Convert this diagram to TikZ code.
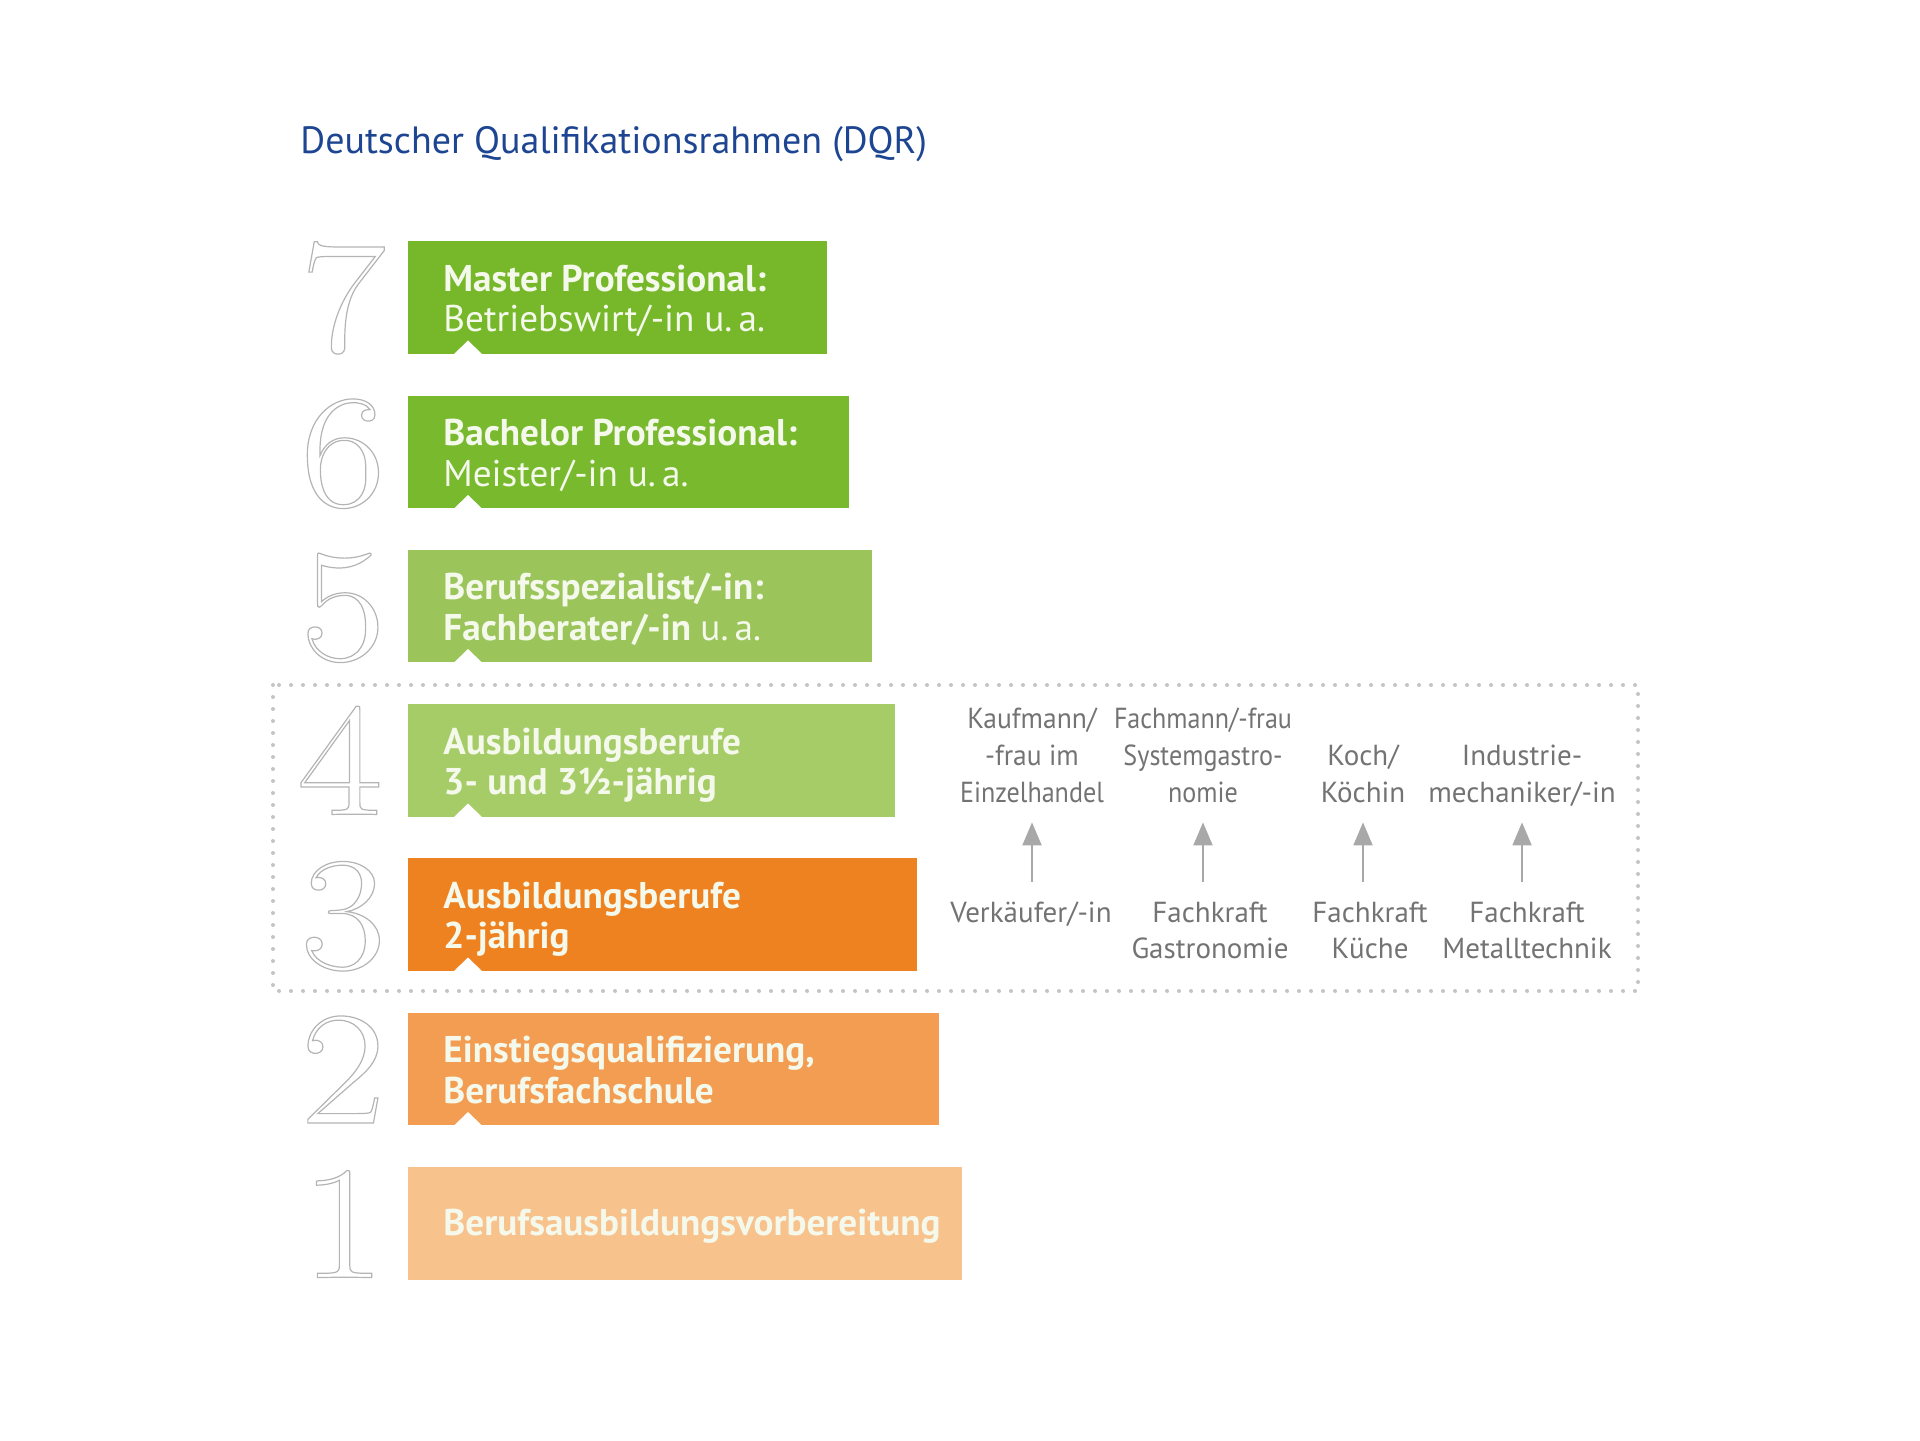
\documentclass[tikz,border=0pt]{standalone}
\usepackage{fontspec}
\setmainfont{PT Sans}
\newfontfamily\digitfont[FakeStretch=1.15]{Latin Modern Roman}
\newfontfamily\condA[FakeStretch=0.95]{PT Sans}
\newfontfamily\condB[FakeStretch=0.9]{PT Sans}
\usetikzlibrary{arrows.meta}
\definecolor{gA}{HTML}{76B82A}
\definecolor{gB}{HTML}{78B92D}
\definecolor{gC}{HTML}{9BC55A}
\definecolor{gD}{HTML}{A6CC68}
\definecolor{oA}{HTML}{EE8220}
\definecolor{oB}{HTML}{F39D52}
\definecolor{oC}{HTML}{F8C28D}
\definecolor{titleblue}{HTML}{1D4592}
\definecolor{rgray}{HTML}{737373}
\definecolor{agray}{HTML}{A8A8A8}
\definecolor{dgray}{HTML}{B4B4B4}
\definecolor{fgray}{HTML}{C4C4C4}
\definecolor{btxt}{HTML}{F4F9EC}
\newcommand{\outldigit}[1]{\special{pdf:literal direct 1 Tr 0.6 w}#1\special{pdf:literal direct 0 Tr}}
\begin{document}
\begin{tikzpicture}[x=0.5pt,y=-0.5pt,
  lvlbox/.style={rectangle, draw=none, inner sep=0pt, outer sep=0pt, anchor=north west, minimum height=56.25pt},
  boxtxt/.style={anchor=base west, inner sep=0pt, text=btxt, font=\fontsize{18.6}{22}\selectfont\bfseries},
  boxtxtreg/.style={anchor=base west, inner sep=0pt, text=btxt, font=\fontsize{18.6}{22}\selectfont},
  digit/.style={anchor=base, inner sep=0pt, text=dgray, font=\digitfont\fontsize{81}{81}\selectfont},
  rtxt/.style={anchor=base, inner sep=0pt, text=rgray, font=\fontsize{14.5}{17}\selectfont, text height=8.5pt, text depth=2.5pt},
  rtxtA/.style={rtxt, font=\condA\fontsize{14.5}{17}\selectfont},
  rtxtB/.style={rtxt, font=\condB\fontsize{14.5}{17}\selectfont},
  uparrow/.style={draw=agray, line width=1pt, -{Triangle[width=9.5pt,length=11.5pt]}, shorten <=11.5pt, shorten >=7.5pt},
  dotframe/.style={draw=fgray, line width=2pt, dash pattern=on 0pt off 6pt, line cap=round},
  notch/.style={fill=white, draw=none}
]
\useasboundingbox (0,0) rectangle (1920,1440);

% title
\node[anchor=base west, inner sep=0pt, text=titleblue, font=\fontsize{19}{23}\selectfont] (title) at (300,153) {Deutscher Qualifikationsrahmen (DQR)};

% dotted frame around levels 3 and 4
\draw[dotframe] (273,685) rectangle (1638,991);

% level boxes
\node[lvlbox, fill=gA, minimum width=209.5pt] (b7) at (408,241) {};
\node[lvlbox, fill=gB, minimum width=220.5pt] (b6) at (408,395.5) {};
\node[lvlbox, fill=gC, minimum width=232pt]   (b5) at (408,549.5) {};
\node[lvlbox, fill=gD, minimum width=243.5pt] (b4) at (408,704) {};
\node[lvlbox, fill=oA, minimum width=254.5pt] (b3) at (408,858) {};
\node[lvlbox, fill=oB, minimum width=265.5pt] (b2) at (408,1012.5) {};
\node[lvlbox, fill=oC, minimum width=277pt]   (b1) at (408,1167) {};

% notches
\foreach \b in {b7,b6,b5,b4,b3,b2}{
  \fill[notch] (\b.south west) ++(46,0.5) -- ++(14,-13.5) -- ++(14,13.5) -- cycle;
}

% digits
\node[digit] (n7) at (343,351.5) {\outldigit{7}};
\node[digit] (n6) at (343,506) {\outldigit{6}};
\node[digit] (n5) at (343,660) {\outldigit{5}};
\node[digit] (n4) at (340,814.5) {\outldigit{4}};
\node[digit] (n3) at (343,968.5) {\outldigit{3}};
\node[digit] (n2) at (343,1123) {\outldigit{2}};
\node[digit] (n1) at (343,1277.5) {\outldigit{1}};

% box texts
\node[boxtxt]    (l7a) at (443,291) {Master Professional:};
\node[boxtxtreg] (l7b) at (443,331.5) {Betriebswirt/-in u.\,a.};
\node[boxtxt]    (l6a) at (443,445.5) {Bachelor Professional:};
\node[boxtxtreg] (l6b) at (443,486) {Meister/-in u.\,a.};
\node[boxtxt]    (l5a) at (443,599.5) {Berufsspezialist/-in:};
\node[boxtxt]    (l5b) at (443,640) {Fachberater/-in \mdseries u.\,a.};
\node[boxtxt]    (l4a) at (443,754) {Ausbildungsberufe};
\node[boxtxt]    (l4b) at (443,794.5) {3- und 3½-jährig};
\node[boxtxt]    (l3a) at (443,908) {Ausbildungsberufe};
\node[boxtxt]    (l3b) at (443,948.5) {2-jährig};
\node[boxtxt]    (l2a) at (443,1062.5) {Einstiegsqualifizierung,};
\node[boxtxt]    (l2b) at (443,1103) {Berufsfachschule};
\node[boxtxt]    (l1a) at (443,1235) {Berufsausbildungsvorbereitung};

% right side: upper (level 4) occupations
\node[rtxtA] (t1a) at (1032,728) {Kaufmann/};
\node[rtxtA] (t1b) at (1032,765) {-frau im};
\node[rtxtB] (t1c) at (1032,802) {Einzelhandel};
\node[rtxtB] (t2a) at (1203,728) {Fachmann/-frau};
\node[rtxtB] (t2b) at (1203,765) {Systemgastro-};
\node[rtxtB] (t2c) at (1203,802) {nomie};
\node[rtxt] (t3b) at (1363,765) {Koch/};
\node[rtxt] (t3c) at (1363,802) {Köchin};
\node[rtxt] (t4b) at (1522,765) {Industrie-};
\node[rtxt] (t4c) at (1522,802) {mechaniker/-in};

% right side: lower (level 3) occupations
\node[rtxt] (u1a) at (1031,922) {Verkäufer/-in};
\node[rtxt] (u2a) at (1210,922) {Fachkraft};
\node[rtxt] (u2b) at (1210,958) {Gastronomie};
\node[rtxt] (u3a) at (1370,922) {Fachkraft};
\node[rtxt] (u3b) at (1370,958) {Küche};
\node[rtxt] (u4a) at (1527,922) {Fachkraft};
\node[rtxt] (u4b) at (1527,958) {Metalltechnik};

% arrows
\draw[uparrow] (t1c.south |- u1a.north) -- (t1c.south);
\draw[uparrow] (t2c.south |- u2a.north) -- (t2c.south);
\draw[uparrow] (t3c.south |- u3a.north) -- (t3c.south);
\draw[uparrow] (t4c.south |- u4a.north) -- (t4c.south);
\end{tikzpicture}
\end{document}
